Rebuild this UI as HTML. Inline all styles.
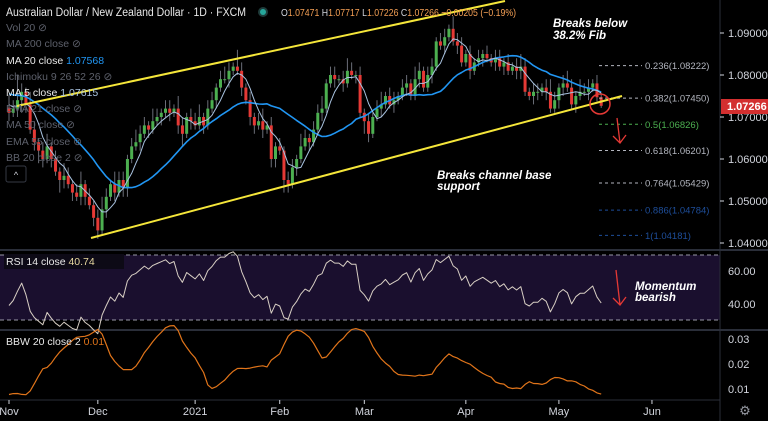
<!DOCTYPE html>
<html><head><meta charset="utf-8">
<style>
html,body{margin:0;padding:0;background:#000;}
svg{display:block;font-family:"Liberation Sans",sans-serif;}
.ax{fill:#d1d4dc;font-size:11px;}
.lg{font-size:10.5px;}
.ann{fill:#fff;font-size:11.5px;font-style:italic;font-weight:bold;}
</style></head>
<body>
<svg id="c" width="768" height="421" viewBox="0 0 768 421" xmlns="http://www.w3.org/2000/svg">
<rect x="0" y="0" width="768" height="421" fill="#000"/>
<rect x="0" y="255" width="720" height="65" fill="#1a0f2e"/>
<line x1="0" y1="255" x2="720" y2="255" stroke="#9a9aa8" stroke-dasharray="4,3"/>
<line x1="0" y1="320" x2="720" y2="320" stroke="#9a9aa8" stroke-dasharray="4,3"/>
<rect x="0" y="249" width="768" height="2" fill="#2a2e39"/>
<rect x="0" y="329" width="768" height="2" fill="#2a2e39"/>
<line x1="720" y1="0" x2="720" y2="421" stroke="#2a2e39"/>
<line x1="0" y1="400" x2="720" y2="400" stroke="#2a2e39"/>
<g id="marks"></g>
<g id="axes"></g>

<line x1="17" y1="106" x2="505" y2="1" stroke="#f5e63a" stroke-width="2"/>
<line x1="91" y1="238" x2="622" y2="96" stroke="#f5e63a" stroke-width="2"/>

<circle cx="600" cy="104" r="10" fill="none" stroke="#e53935" stroke-width="1.5"/>
<g stroke="#e53935" stroke-width="1.3" fill="none">
<line x1="617" y1="118" x2="620" y2="143"/><polyline points="613,136 620,143 626,135"/></g>
<g stroke="#e53935" stroke-width="1.3" fill="none">
<line x1="616" y1="270" x2="620" y2="305"/><polyline points="613,298 620,305 626,297"/></g>
<text class="ann" x="553" y="27">Breaks below</text>
<text class="ann" x="553" y="39">38.2% Fib</text>
<text class="ann" x="437" y="179">Breaks channel base</text>
<text class="ann" x="437" y="190">support</text>
<text class="ann" x="635" y="290">Momentum</text>
<text class="ann" x="635" y="301">bearish</text>

<text x="6" y="16" fill="#e8e8e8" font-size="11.5" textLength="240" lengthAdjust="spacingAndGlyphs">Australian Dollar / New Zealand Dollar · 1D · FXCM</text>
<circle cx="263" cy="12" r="5" fill="#1e3b3a"/>
<circle cx="263" cy="12" r="3" fill="#26a69a"/>
<text x="281" y="16" font-size="10.5" fill="#f5a055" textLength="235" lengthAdjust="spacingAndGlyphs"><tspan fill="#d1d4dc">O</tspan>1.07471 <tspan fill="#d1d4dc">H</tspan>1.07717 <tspan fill="#d1d4dc">L</tspan>1.07226 <tspan fill="#d1d4dc">C</tspan>1.07266 −0.00205 (−0.19%)</text>

<g class="lg">
<text x="6" y="31" fill="#5d606b">Vol 20 ⊘</text>
<text x="6" y="47" fill="#5d606b">MA 200 close ⊘</text>
<text x="6" y="64" fill="#e8e8e8">MA 20 close <tspan fill="#2196f3">1.07568</tspan></text>
<text x="6" y="80" fill="#5d606b">Ichimoku 9 26 52 26 ⊘</text>
<text x="6" y="96" fill="#e8e8e8">MA 5 close <tspan fill="#a9c3e0">1.07615</tspan></text>
<text x="6" y="112" fill="#5d606b">EMA 21 close ⊘</text>
<text x="6" y="128" fill="#5d606b">MA 50 close ⊘</text>
<text x="6" y="145" fill="#5d606b">EMA 55 close ⊘</text>
<text x="6" y="161" fill="#5d606b">BB 20 close 2 ⊘</text>
</g>
<rect x="6" y="166" width="20" height="16" rx="2" fill="#000" stroke="#363a45"/>
<text x="16" y="178" fill="#d1d4dc" font-size="9" text-anchor="middle">^</text>

<rect x="4" y="254" width="120" height="15" fill="#0d0a16"/>
<text x="6" y="265" class="lg" fill="#e8e8e8">RSI 14 close <tspan fill="#e8d9a0">40.74</tspan></text>
<text x="6" y="345" class="lg" fill="#e8e8e8">BBW 20 close 2 <tspan fill="#e0741a">0.01</tspan></text>

<rect x="721" y="99" width="47" height="15" fill="#d32f2f"/>
<text x="727" y="110" fill="#fff" font-size="11" font-weight="bold">1.07266</text>
<text x="745" y="415" fill="#9598a1" font-size="13" text-anchor="middle">⚙</text>
</svg>
<script>
const priorCloses=[1.0765,1.0772,1.0758,1.0781,1.0776,1.0790,1.0768,1.0755,1.0772,1.0784,1.0760,1.0748,1.0765,1.0741,1.0752,1.0738,1.0745,1.0728,1.0740,1.0722];
const closes=[1.071,1.072,1.074,1.076,1.073,1.067,1.064,1.062,1.060,1.063,1.060,1.057,1.055,1.056,1.054,1.052,1.051,1.054,1.051,1.049,1.046,1.043,1.048,1.051,1.054,1.052,1.055,1.053,1.060,1.063,1.064,1.066,1.068,1.067,1.069,1.070,1.071,1.072,1.071,1.072,1.068,1.066,1.070,1.069,1.068,1.070,1.068,1.072,1.074,1.077,1.079,1.079,1.081,1.082,1.081,1.077,1.074,1.070,1.068,1.069,1.067,1.068,1.060,1.063,1.062,1.055,1.054,1.058,1.060,1.063,1.065,1.064,1.067,1.071,1.072,1.078,1.080,1.079,1.079,1.078,1.081,1.080,1.080,1.071,1.069,1.066,1.070,1.072,1.073,1.075,1.073,1.074,1.075,1.077,1.078,1.075,1.079,1.081,1.077,1.080,1.082,1.088,1.087,1.089,1.091,1.088,1.087,1.083,1.085,1.081,1.083,1.084,1.085,1.084,1.083,1.084,1.082,1.083,1.081,1.082,1.081,1.082,1.076,1.075,1.076,1.076,1.077,1.076,1.072,1.074,1.077,1.078,1.077,1.073,1.075,1.076,1.076,1.077,1.078,1.07471,1.07266];
const wickUp=[3,2,6,2,1,3,2,1,2,3,1,2,1,3,2,1,2,3,1,2,1,2,3,2,1,3,2,2,1,2,3,2,2,1,3,2,1,2,2,1,3,2,1,2,2,3,1,2,2,1,2,3,2,1,4,2,1,2,1,2,3,1,2,1,2,1,2,2,1,3,2,1,2,2,3,1,2,2,1,2,3,2,1,2,1,2,1,2,3,1,2,2,1,2,2,1,3,2,1,2,2,1,2,2,1,3,2,2,1,2,1,2,1,2,1,2,2,1,2,1,2,3,2,1,2,2,1,2,3,2,1,2,3,2,1,3,2,2,1,2,1];
const wickDn=[2,1,2,3,2,1,2,3,2,1,2,1,3,2,1,2,1,2,2,1,2,2,1,2,1,2,1,2,2,1,1,2,1,2,1,1,2,1,2,1,2,3,1,2,1,1,2,1,1,2,1,1,2,1,1,2,1,2,2,1,2,1,2,2,1,3,2,1,2,1,1,2,1,1,2,1,1,2,1,2,1,1,2,1,3,2,1,1,2,1,1,2,1,1,2,1,1,2,1,1,2,1,1,2,1,1,2,1,1,2,1,1,2,1,1,2,1,2,1,1,2,2,1,1,2,2,1,2,1,1,2,2,1,1,2,1,1,2,1,1,0.5];
const priceTicks=[1.09,1.08,1.07,1.06,1.05,1.04];
const rsiTicks=[60,40];
const bbwTicks=[0.03,0.02,0.01];
const monthLabels=["Nov","Dec","2021","Feb","Mar","Apr","May","Jun"];
const monthBars=[0,21,44,64,84,108,130,152];
const fibRatios=["0.236","0.382","0.5","0.618","0.764","0.886","1"];
const fibPrices=[1.08222,1.07450,1.06826,1.06201,1.05429,1.04784,1.04181];
const fibColors=["#b2b5be","#b2b5be","#4caf50","#b2b5be","#b2b5be","#1e4e9a","#1e4e9a"];

const NS="http://www.w3.org/2000/svg";
const xOf=i=>9+i*4.23;
const yP=p=>33+(1.09-p)*4200;
const yR=r=>304-(r-40)*1.65;
const yB=b=>389-(b-0.01)*2500;
const marks=document.getElementById('marks'), axes=document.getElementById('axes');
function mk(tag,attrs,parent){const e=document.createElementNS(NS,tag);for(const k in attrs)e.setAttribute(k,attrs[k]);parent.appendChild(e);return e;}

const all=priorCloses.concat(closes);const P=priorCloses.length;
closes.forEach((c,i)=>{
 const o=i===0?priorCloses[P-1]:closes[i-1];
 const up=c>=o;const col=up?"#4caf50":"#e53935";
 const hi=Math.max(o,c)+wickUp[i]*0.001, lo=Math.min(o,c)-wickDn[i]*0.001;
 const g=mk('g',{},marks);
 
 
 mk('line',{x1:xOf(i),x2:xOf(i),y1:yP(hi),y2:yP(lo),stroke:"#6b6e78","stroke-width":1},g);
 const t=yP(Math.max(o,c)),b=yP(Math.min(o,c));
 mk('rect',{x:xOf(i)-1.5,y:t,width:3,height:Math.max(1,b-t),fill:col},g);
});
function sma(n,k){const s=all.slice(Math.max(0,k-n+1),k+1);return s.reduce((a,b)=>a+b,0)/s.length;}
function line(vals,yf,stroke,w,name){
 const pts=vals.map((v,i)=>xOf(i).toFixed(1)+","+yf(v).toFixed(1)).join(" ");
 const pl=mk('polyline',{points:pts,fill:"none",stroke:stroke,"stroke-width":w,"stroke-linejoin":"round"},marks);
 
 
}
const ma20=closes.map((c,i)=>sma(20,i+P));
const ma5=closes.map((c,i)=>sma(5,i+P));
line(ma20,yP,"#2196f3",1.6,"ma20-line");
line(ma5,yP,"#a9c3e0",1,"ma5-line");
let ag=0,al=0;
for(let k=1;k<=14;k++){const d=all[k]-all[k-1];if(d>0)ag+=d;else al-=d;}
ag/=14;al/=14;const rsiAll=[];
for(let k=15;k<all.length;k++){const d=all[k]-all[k-1];ag=(ag*13+Math.max(d,0))/14;al=(al*13+Math.max(-d,0))/14;rsiAll[k]=100-100/(1+ag/(al||1e-9));}
const rsi=closes.map((c,i)=>rsiAll[i+P]);
line(rsi,yR,"#d8cfc4",1,"rsi-line");
const bbw=closes.map((c,i)=>{const k=i+P;const s=all.slice(Math.max(0,k-19),k+1);const m=s.reduce((a,b)=>a+b,0)/s.length;const sd=Math.sqrt(s.reduce((a,b)=>a+(b-m)*(b-m),0)/s.length);return 4*sd/m;});
line(bbw,yB,"#e0741a",1.2,"bbw-line");
fibPrices.forEach((p,i)=>{
 const l=mk('line',{x1:599,x2:642,y1:yP(p),y2:yP(p),stroke:fibColors[i],"stroke-dasharray":"3,3"},marks);
 
 
 const t=mk('text',{x:645,y:yP(p)+3.5,fill:fibColors[i],"font-size":"9.5"},marks);
 t.textContent=fibRatios[i]+"("+p.toFixed(5)+")";
 
 
});
priceTicks.forEach(p=>{
 mk('line',{x1:720,x2:724,y1:yP(p),y2:yP(p),stroke:"#d1d4dc"},axes);
 const t=mk('text',{x:728,y:yP(p)+4,class:"ax"},axes);t.textContent=p.toFixed(5);
 
 
});
rsiTicks.forEach(r=>{const t=mk('text',{x:728,y:yR(r)+4,class:"ax"},axes);t.textContent=r.toFixed(2);
 
 });
bbwTicks.forEach(b=>{const t=mk('text',{x:728,y:yB(b)+4,class:"ax"},axes);t.textContent=b.toFixed(2);
 
 });
monthLabels.forEach((m,i)=>{const x=xOf(monthBars[i]);
 mk('line',{x1:x,x2:x,y1:400,y2:404,stroke:"#d1d4dc"},axes);
 const t=mk('text',{x:x,y:415,class:"ax","text-anchor":"middle"},axes);t.textContent=m;
 
 });
</script>
</body></html>
